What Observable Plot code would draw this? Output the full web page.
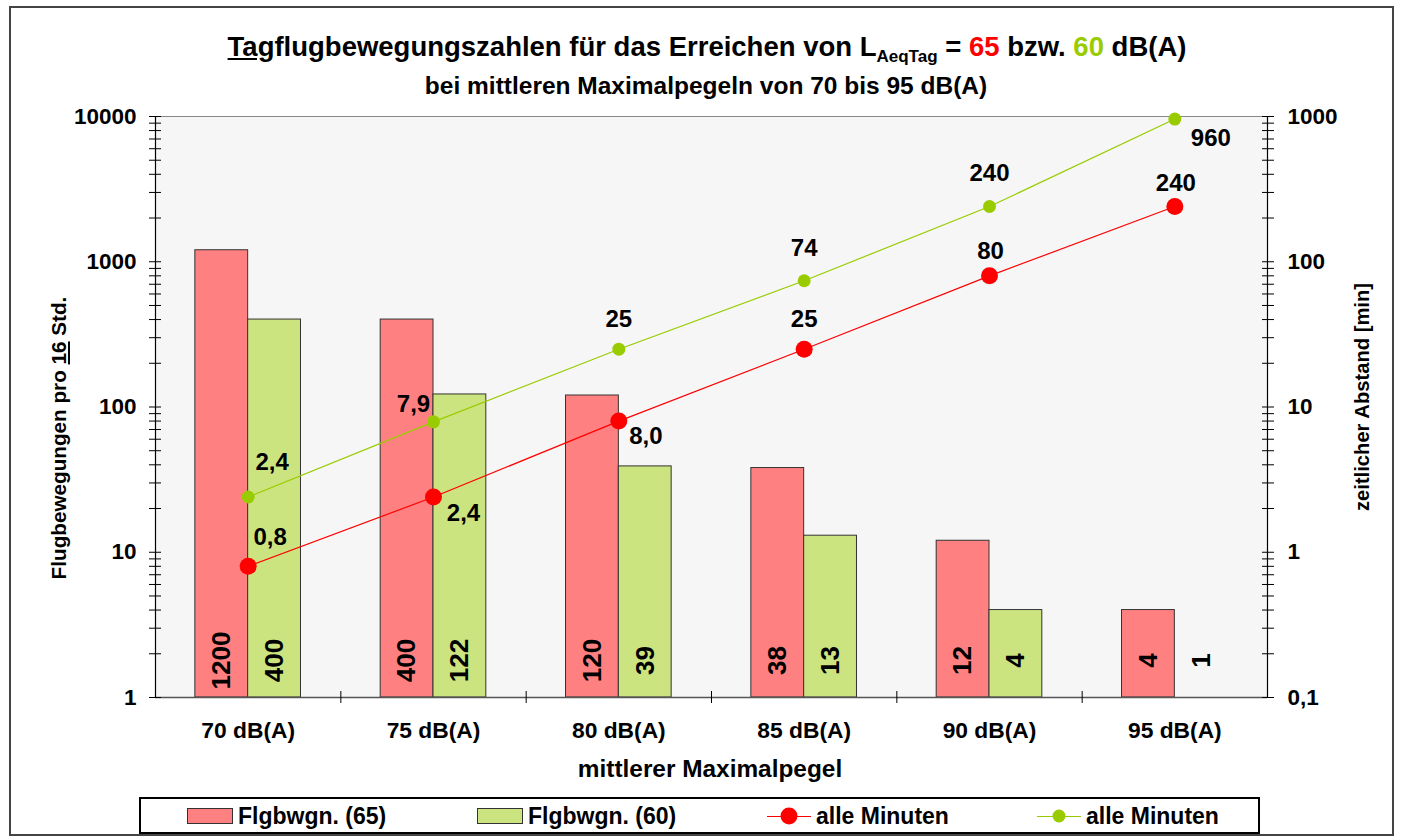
<!DOCTYPE html>
<html>
<head>
<meta charset="utf-8">
<script src="https://cdn.jsdelivr.net/npm/d3@7"></script>
<script src="https://cdn.jsdelivr.net/npm/@observablehq/plot@0.6"></script>
<style>
  html, body { margin: 0; padding: 0; background: #fff; }
  body { width: 1404px; height: 840px; overflow: hidden; font-family: "Liberation Sans", Arial, sans-serif; font-weight: bold; color: #000; }
  #wrap { position: relative; width: 1404px; height: 840px; }
  #border { position: absolute; left: 9px; top: 6px; width: 1385px; height: 830px; border: 2px solid #444; box-sizing: border-box; }
  #chart { position: absolute; left: 0; top: 0; }
  .abs { position: absolute; white-space: nowrap; }
  #title { left: 0; width: 1414px; top: 31px; text-align: center; font-size: 27.5px; line-height: 32px; }
  #title sub { font-size: 17px; vertical-align: -6px; line-height: 0; }
  #subtitle { left: 0; width: 1412px; top: 72px; text-align: center; font-size: 24.5px; line-height: 28px; }
  #ylabel { left: 59px; top: 438px; transform: translate(-50%, -50%) rotate(-90deg); font-size: 20.7px; }
  #y2label { left: 1362px; top: 397px; transform: translate(-50%, -50%) rotate(-90deg); font-size: 20.2px; }
  #xlabel { left: 710px; top: 769px; transform: translate(-50%, -50%); font-size: 24.4px; }
  #legend { left: 139px; top: 797px; width: 1121px; height: 37px; border: 2px solid #000; box-sizing: border-box; background: #fff; }
  .li { position: absolute; top: 5px; font-size: 23px; line-height: 24px; display: flex; align-items: center; }
  .sw { display: inline-block; width: 44px; height: 14px; border: 1px solid #333; margin-right: 5px; }
  .ln { position: relative; display: inline-block; width: 44px; height: 24px; margin-right: 5px; }
  .ln i { position: absolute; left: 0; right: 0; top: 11.5px; height: 1.2px; }
  .ln b { position: absolute; left: 50%; top: 50%; border-radius: 50%; transform: translate(-50%, -50%); }
</style>
</head>
<body>
<div id="wrap">
  <div id="border"></div>
  <div id="chart"></div>
  <div id="title" class="abs"><u>Tag</u>flugbewegungszahlen für das Erreichen von L<sub>AeqTag</sub> = <span style="color:#FF0000">65</span> bzw. <span style="color:#99CC00">60</span> dB(A)</div>
  <div id="subtitle" class="abs">bei mittleren Maximalpegeln von 70 bis 95 dB(A)</div>
  <div id="ylabel" class="abs">Flugbewegungen pro <u>16</u> Std.</div>
  <div id="y2label" class="abs">zeitlicher Abstand [min]</div>
  <div id="xlabel" class="abs">mittlerer Maximalpegel</div>
  <div id="legend" class="abs"></div>
</div>
<script>
// ---- data ----
const categories = ["70 dB(A)", "75 dB(A)", "80 dB(A)", "85 dB(A)", "90 dB(A)", "95 dB(A)"];
const flights65 = [1200, 400, 120, 38, 12, 4];      // Flgbwgn. (65)
const flights60 = [400, 122, 39, 13, 4, 1];         // Flgbwgn. (60)
const minutes65 = [0.8, 2.4, 8.0, 25, 80, 240];     // alle Minuten (65)
const minutes60 = [2.4, 7.9, 25, 74, 240, 960];     // alle Minuten (60)
const leftTicks = [1, 10, 100, 1000, 10000];
const rightTicks = [0.1, 1, 10, 100, 1000];
const seriesNames = ["Flgbwgn. (65)", "Flgbwgn. (60)", "alle Minuten", "alle Minuten"];

// ---- styles (not data) ----
const RED_BAR = "#FF8080", GREEN_BAR = "#CCE47F", RED = "#FF0000", GREEN = "#99CC00";
const BW = 0.285;        // bar width in category units
const RIGHT_FACTOR = 10; // right axis (0.1..1000) mapped onto left (1..10000)
// label offsets in px for line labels
const off65 = [[22, -29], [30, 16], [27, 15], [0, -30], [1, -25], [1, -23]];
const off60 = [[24, -35], [-20, -18], [0, -30], [0, -32], [0, -33], [36, 19]];

const rows = categories.map((c, i) => ({
  i, cat: c, f65: flights65[i], f60: flights60[i], m65: minutes65[i], m60: minutes60[i],
  o65: off65[i], o60: off60[i]
}));

const fmtDe = v => v < 10 ? v.toFixed(1).replace(".", ",") : String(v);
const fmtAxis = v => String(v).replace(".", ",");
const minorTicks = d3.scaleLog().domain([1, 10000]).ticks();
const center = d => d.i + 0.5;

const chart = Plot.plot({
  width: 1404,
  height: 790,
  marginLeft: 155,
  marginRight: 137,
  marginTop: 116,
  marginBottom: 93,
  style: { fontFamily: "'Liberation Sans', Arial, sans-serif", fontWeight: "bold", background: "transparent", color: "#000" },
  x: { type: "linear", domain: [0, categories.length], axis: null },
  y: { type: "log", domain: [1, 10000], axis: null },
  marks: [
    Plot.frame({ fill: "#F6F6F6", stroke: "#888" }),
    // bars
    Plot.rect(rows, { x1: d => center(d) - BW, x2: center, y1: 1, y2: "f65", fill: RED_BAR, stroke: "#333", strokeWidth: 1 }),
    Plot.rect(rows.filter(d => d.f60 > 1), { x1: center, x2: d => center(d) + BW, y1: 1, y2: "f60", fill: GREEN_BAR, stroke: "#333", strokeWidth: 1 }),
    // axis lines
    Plot.ruleY([1], { stroke: "#555", strokeWidth: 1.5 }),
    Plot.ruleX([0, categories.length], { stroke: "#000", strokeWidth: 1.2 }),
    // left axis
    Plot.axisY({ anchor: "left", ticks: minorTicks, tickSize: 12, dx: 6, tickFormat: () => "", label: null, stroke: "#000" }),
    Plot.axisY({ anchor: "left", ticks: leftTicks, tickSize: 0, tickPadding: 19, tickFormat: d => String(d), label: null, fontSize: 22.5, fontWeight: "bold", fill: "#000" }),
    // right axis
    Plot.axisY({ anchor: "right", ticks: minorTicks, tickSize: 12, dx: -6, tickFormat: () => "", label: null, stroke: "#000" }),
    Plot.axisY({ anchor: "right", ticks: rightTicks.map(v => v * RIGHT_FACTOR), tickSize: 0, tickPadding: 20, tickFormat: d => fmtAxis(+(d / RIGHT_FACTOR).toPrecision(6)), label: null, fontSize: 22.5, fontWeight: "bold", fill: "#000" }),
    // x axis
    Plot.axisX({ anchor: "bottom", ticks: d3.range(1, categories.length), tickSize: 12, dy: -6, tickFormat: () => "", label: null, stroke: "#000" }),
    Plot.axisX({ anchor: "bottom", ticks: rows.map(center), tickSize: 0, tickPadding: 24, tickFormat: v => categories[Math.floor(v)], label: null, fontSize: 22.8, fontWeight: "bold", fill: "#000" }),
    // bar labels
    Plot.text(rows, { x: d => center(d) - BW / 2, y: 1, text: d => String(d.f65), rotate: -90, dy: -37, fontSize: 26, fontWeight: "bold", fill: "#000" }),
    Plot.text(rows, { x: d => center(d) + BW / 2, y: 1, text: d => String(d.f60), rotate: -90, dy: -37, fontSize: 26, fontWeight: "bold", fill: "#000" }),
    // lines (right axis)
    Plot.line(rows, { x: center, y: d => d.m65 * RIGHT_FACTOR, stroke: RED, strokeWidth: 1.2 }),
    Plot.line(rows, { x: center, y: d => d.m60 * RIGHT_FACTOR, stroke: GREEN, strokeWidth: 1.2 }),
    Plot.dot(rows, { x: center, y: d => d.m65 * RIGHT_FACTOR, r: 8.5, fill: RED, stroke: "none" }),
    Plot.dot(rows, { x: center, y: d => d.m60 * RIGHT_FACTOR, r: 6.5, fill: GREEN, stroke: "none" }),
    // line labels
    ...rows.map(d => Plot.text([d], { x: center, y: d.m65 * RIGHT_FACTOR, text: () => fmtDe(d.m65), dx: d.o65[0], dy: d.o65[1], fontSize: 24, fontWeight: "bold", fill: "#000" })),
    ...rows.map(d => Plot.text([d], { x: center, y: d.m60 * RIGHT_FACTOR, text: () => fmtDe(d.m60), dx: d.o60[0], dy: d.o60[1], fontSize: 24, fontWeight: "bold", fill: "#000" }))
  ]
});
document.getElementById("chart").appendChild(chart);

// ---- legend ----
const legend = document.getElementById("legend");
const legendItems = [
  { name: seriesNames[0], kind: "bar", color: RED_BAR, left: 46 },
  { name: seriesNames[1], kind: "bar", color: GREEN_BAR, left: 336 },
  { name: seriesNames[2], kind: "line", color: RED, r: 8.5, left: 626 },
  { name: seriesNames[3], kind: "line", color: GREEN, r: 6.5, left: 896 }
];
for (const it of legendItems) {
  const el = document.createElement("div");
  el.className = "li";
  el.style.left = it.left + "px";
  if (it.kind === "bar") {
    el.innerHTML = `<span class="sw" style="background:${it.color}"></span><span>${it.name}</span>`;
  } else {
    el.innerHTML = `<span class="ln"><i style="background:${it.color}"></i><b style="width:${2*it.r}px;height:${2*it.r}px;background:${it.color}"></b></span><span>${it.name}</span>`;
  }
  legend.appendChild(el);
}
</script>
</body>
</html>
